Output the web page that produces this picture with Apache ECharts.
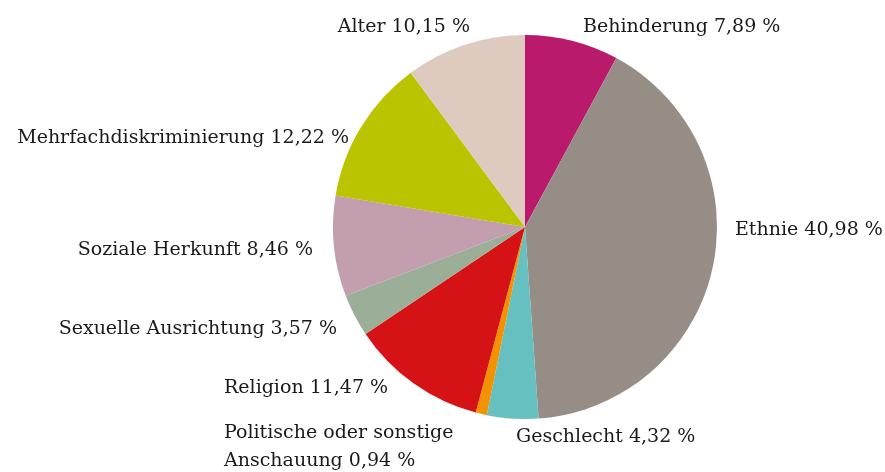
<!DOCTYPE html>
<html><head><meta charset="utf-8">
<script src="https://cdn.jsdelivr.net/npm/echarts@6/dist/echarts.min.js"></script>
<style>html,body{margin:0;padding:0;background:#fff}#c{width:885px;height:472px}</style>
</head><body><div id="c"></div>
<script>
const categories = ["Behinderung","Ethnie","Geschlecht","Politische oder sonstige\nAnschauung","Religion","Sexuelle Ausrichtung","Soziale Herkunft","Mehrfachdiskriminierung","Alter"];
const values = [7.89,40.98,4.32,0.94,11.47,3.57,8.46,12.22,10.15];
const colors = ["#BA1A6C","#968D87","#66C0C0","#F39200","#D51317","#9BAE98","#C39EAF","#BAC400","#DFCAC0"];
// label anchor layout: [x, y, align]
const labelPos = [[583,27,'left'],[735,230,'left'],[516,437,'left'],[224,447,'left'],[224,388,'left'],[337,329,'right'],[313,250,'right'],[349,138,'right'],[470,27,'right']];
const fmt = v => v.toFixed(2).replace('.', ',') + ' %';
const chart = echarts.init(document.getElementById('c'), null, {renderer:'canvas'});
chart.setOption({
  animation:false,
  series:[{
    type:'pie',
    center:[525,227],
    radius:192,
    startAngle:90,
    clockwise:true,
    data: categories.map((n,i)=>({name:n,value:values[i],itemStyle:{color:colors[i]}})),
    label:{show:true,position:'outside',color:'#1a1a1a',fontFamily:'DejaVu Serif',fontWeight:'normal',fontSize:19,lineHeight:28,
      overflow:'none',width:400,
      formatter:p=>p.name+' '+fmt(p.value)},
    labelLine:{show:false},
    labelLayout:p=>{const l=labelPos[p.dataIndex];return {x:l[0],y:l[1],align:l[2],verticalAlign:'middle'};},
    emphasis:{disabled:true}
  }]
});
</script></body></html>
